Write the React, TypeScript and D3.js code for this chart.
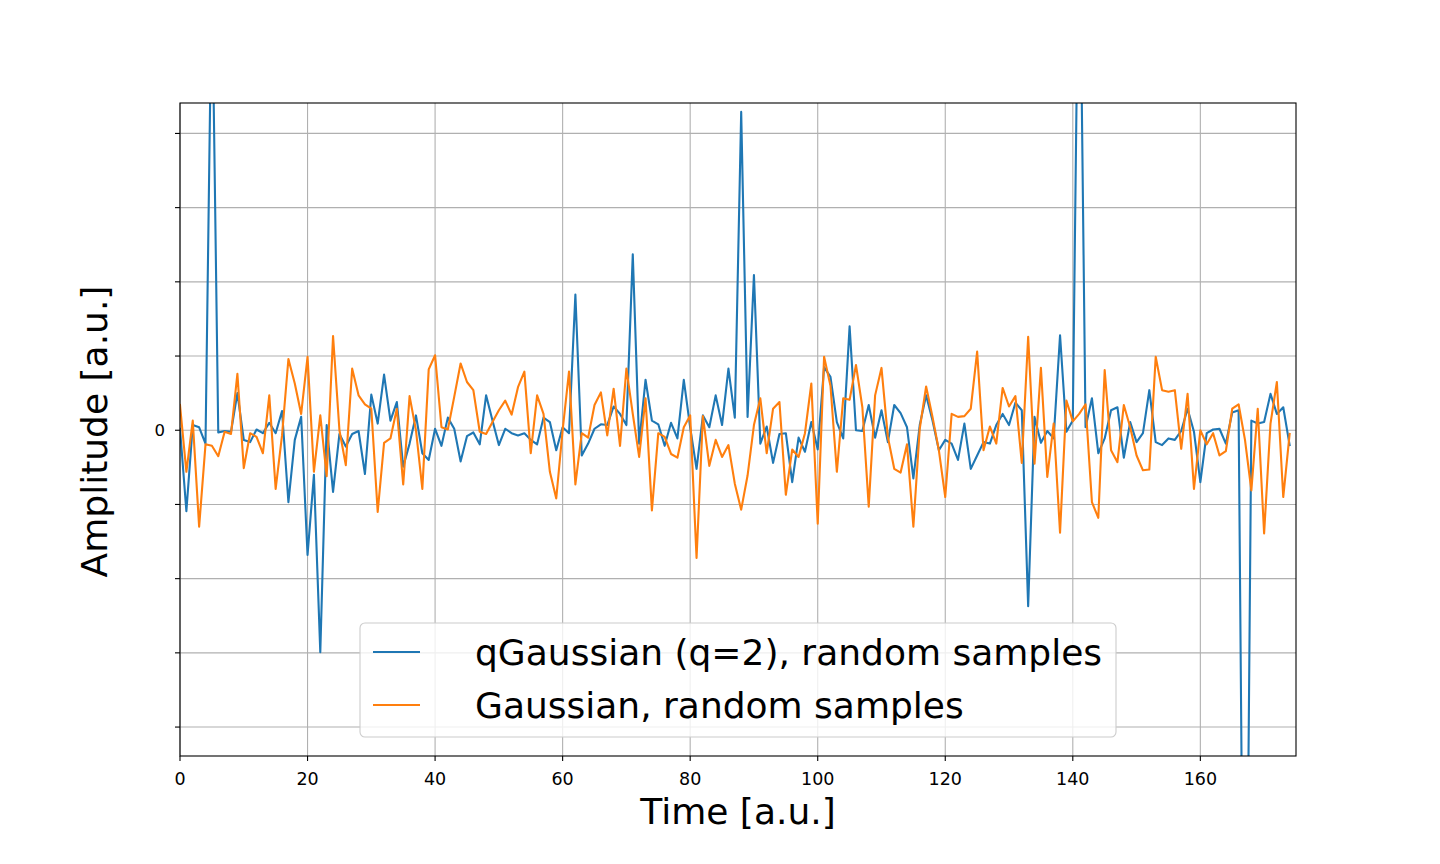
import React from 'react';
import * as d3 from 'd3';

const width = 1440;
const height = 864;
const margin = { left: 180, right: 144, top: 103, bottom: 108 };

// sample amplitudes (index = time step)
const qGaussian = [
  0.02, -1.09, 0.07, 0.04, -0.18, 6.2, -0.03, -0.01, -0.02, 0.5,
  -0.13, -0.16, 0.01, -0.04, 0.1, -0.04, 0.26, -0.97, -0.13, 0.18,
  -1.68, -0.6, -2.99, 0.07, -0.83, -0.05, -0.22, -0.05, -0.01, -0.59,
  0.48, 0.09, 0.75, 0.13, 0.38, -0.49, -0.18, 0.2, -0.31, -0.4,
  0.02, -0.21, 0.17, 0.02, -0.42, -0.08, -0.03, -0.19, 0.47, 0.13,
  -0.2, 0.02, -0.04, -0.07, -0.04, -0.13, -0.19, 0.17, 0.11, -0.27,
  0.04, -0.04, 1.83, -0.34, -0.18, 0.02, 0.08, 0.07, 0.32, 0.22,
  0.07, 2.37, -0.18, 0.68, 0.13, 0.08, -0.21, 0.1, -0.11, 0.68,
  0.04, -0.52, 0.2, 0.04, 0.47, 0.07, 0.83, 0.17, 4.29, 0.18,
  2.09, -0.18, 0.05, -0.44, -0.05, -0.04, -0.7, -0.1, -0.29, 0.11,
  -0.26, 0.85, 0.72, 0.11, -0.11, 1.4, 0, -0.01, 0.34, -0.1,
  0.27, -0.16, 0.34, 0.23, 0.04, -0.65, 0.07, 0.47, 0.13, -0.27,
  -0.13, -0.18, -0.4, 0.09, -0.52, -0.34, -0.16, -0.18, 0.07, 0.22,
  0.07, 0.37, 0.27, -2.37, 0.18, -0.17, -0.01, -0.11, 1.28, -0.02,
  0.13, 7.5, 0.04, 0.43, -0.31, -0.11, 0.27, 0.31, -0.37, 0.11,
  -0.16, -0.04, 0.54, -0.16, -0.2, -0.11, -0.13, -0.01, 0.29, -0.02,
  -0.7, -0.04, 0.01, 0.02, -0.18, 0.24, 0.27, -10, 0.13, 0.09,
  0.11, 0.49, 0.22, 0.31, -0.2,
];

const gaussian = [
  0.34, -0.56, 0.13, -1.3, -0.19, -0.21, -0.35, -0.02, -0.05, 0.76,
  -0.51, -0.04, -0.09, -0.31, 0.47, -0.79, -0.07, 0.96, 0.63, 0.22,
  0.99, -0.56, 0.2, -0.62, 1.27, 0, -0.47, 0.83, 0.47, 0.35,
  0.29, -1.1, -0.17, -0.11, 0.29, -0.73, 0.46, 0, -0.79, 0.82,
  1.01, 0.04, 0.01, 0.45, 0.9, 0.65, 0.54, -0.02, -0.05, 0.11,
  0.27, 0.4, 0.21, 0.58, 0.79, -0.31, 0.47, 0.22, -0.56, -0.92,
  0, 0.79, -0.73, -0.04, -0.1, 0.34, 0.51, -0.07, 0.56, -0.21,
  0.83, 0.22, -0.36, 0.43, -1.08, -0.04, -0.09, -0.32, -0.37, 0.04,
  0.2, -1.72, 0.19, -0.48, -0.13, -0.36, -0.2, -0.72, -1.07, -0.61,
  0.07, 0.43, -0.31, 0.29, 0.38, -0.87, -0.26, -0.36, -0.04, 0.63,
  -1.26, 0.99, 0.6, -0.56, 0.43, 0.41, 0.88, 0.31, -1.03, 0.47,
  0.84, -0.09, -0.52, -0.57, -0.19, -1.3, 0.02, 0.59, 0.18, -0.27,
  -0.9, 0.22, 0.18, 0.19, 0.29, 1.06, -0.27, 0.05, -0.18, 0.57,
  0.32, 0.46, -0.44, 1.26, -0.45, 0.84, -0.63, 0.09, -1.38, 0.4,
  0.12, 0.22, 0.35, -0.97, -1.18, 0.81, -0.27, -0.43, 0.34, 0.04,
  -0.34, -0.54, -0.53, 0.99, 0.54, 0.52, 0.54, -0.25, 0.49, -0.79,
  0, -0.19, -0.04, -0.34, -0.28, 0.29, 0.35, -0.13, -0.81, 0.29,
  -1.39, 0.09, 0.65, -0.9, -0.05,
];

const xTicks = [0, 20, 40, 60, 80, 100, 120, 140, 160];
const yTicks = [-4, -3, -2, -1, 0, 1, 2, 3, 4];
const yTickLabels = ['', '', '', '', '0', '', '', '', ''];
const seriesNames = ['qGaussian (q=2), random samples', 'Gaussian, random samples'];
const colors = ['#1f77b4', '#ff7f0e'];

const font = '"DejaVu Sans", sans-serif';

export default function App() {
  const x = d3.scaleLinear().domain([0, 175]).range([margin.left, width - margin.right]);
  const y = d3.scaleLinear().domain([-4.39, 4.41]).range([height - margin.bottom, margin.top]);

  const line = d3.line<number>()
    .x((d, i) => x(i))
    .y((d) => y(d));

  const x0 = margin.left;
  const x1 = width - margin.right;
  const y0 = margin.top;
  const y1 = height - margin.bottom;

  const series = [qGaussian, gaussian];

  return (
    <svg width={width} height={height} style={{ display: 'block', position: 'absolute', left: 0, top: 0 }}>
      <rect x={0} y={0} width={width} height={height} fill="white" />
      <defs>
        <clipPath id="plotclip">
          <rect x={x0} y={y0} width={x1 - x0} height={y1 - y0} />
        </clipPath>
      </defs>

      {/* grid */}
      {xTicks.map((t) => (
        <line key={'gx' + t} x1={x(t)} x2={x(t)} y1={y0} y2={y1} stroke="#b0b0b0" strokeWidth={1.1} />
      ))}
      {yTicks.map((t) => (
        <line key={'gy' + t} x1={x0} x2={x1} y1={y(t)} y2={y(t)} stroke="#b0b0b0" strokeWidth={1.1} />
      ))}

      {/* series */}
      <g clipPath="url(#plotclip)">
        {series.map((s, k) => (
          <path key={k} d={line(s) || ''} fill="none" stroke={colors[k]} strokeWidth={2.1}
            strokeLinejoin="round" strokeLinecap="square" />
        ))}
      </g>

      {/* frame */}
      <rect x={x0} y={y0} width={x1 - x0} height={y1 - y0} fill="none" stroke="black" strokeWidth={1.1} />

      {/* ticks */}
      {xTicks.map((t) => (
        <g key={'tx' + t}>
          <line x1={x(t)} x2={x(t)} y1={y1} y2={y1 + 5} stroke="black" strokeWidth={1.1} />
          <text x={x(t)} y={785} textAnchor="middle" fontFamily={font} fontSize={17.5}>{t}</text>
        </g>
      ))}
      {yTicks.map((t, i) => (
        <g key={'ty' + t}>
          <line x1={x0 - 5} x2={x0} y1={y(t)} y2={y(t)} stroke="black" strokeWidth={1.1} />
          <text x={165} y={y(t)} dy="0.36em" textAnchor="end" fontFamily={font} fontSize={16.5}>{yTickLabels[i]}</text>
        </g>
      ))}

      {/* axis labels */}
      <text x={(x0 + x1) / 2} y={824} textAnchor="middle" fontFamily={font} fontSize={36}>Time [a.u.]</text>
      <text transform={`translate(107, ${(y0 + y1) / 2 + 2}) rotate(-90)`} textAnchor="middle" fontFamily={font} fontSize={36}>Amplitude [a.u.]</text>

      {/* legend */}
      <rect x={360} y={623} width={756} height={114} rx={5} fill="white" fillOpacity={0.8} stroke="#cccccc" strokeWidth={1.1} />
      {seriesNames.map((n, k) => (
        <g key={n}>
          <line x1={373} x2={420} y1={652 + k * 53} y2={652 + k * 53} stroke={colors[k]} strokeWidth={2.1} />
          <text x={475} y={652 + k * 53} dy="0.36em" fontFamily={font} fontSize={36}>{n}</text>
        </g>
      ))}
    </svg>
  );
}
